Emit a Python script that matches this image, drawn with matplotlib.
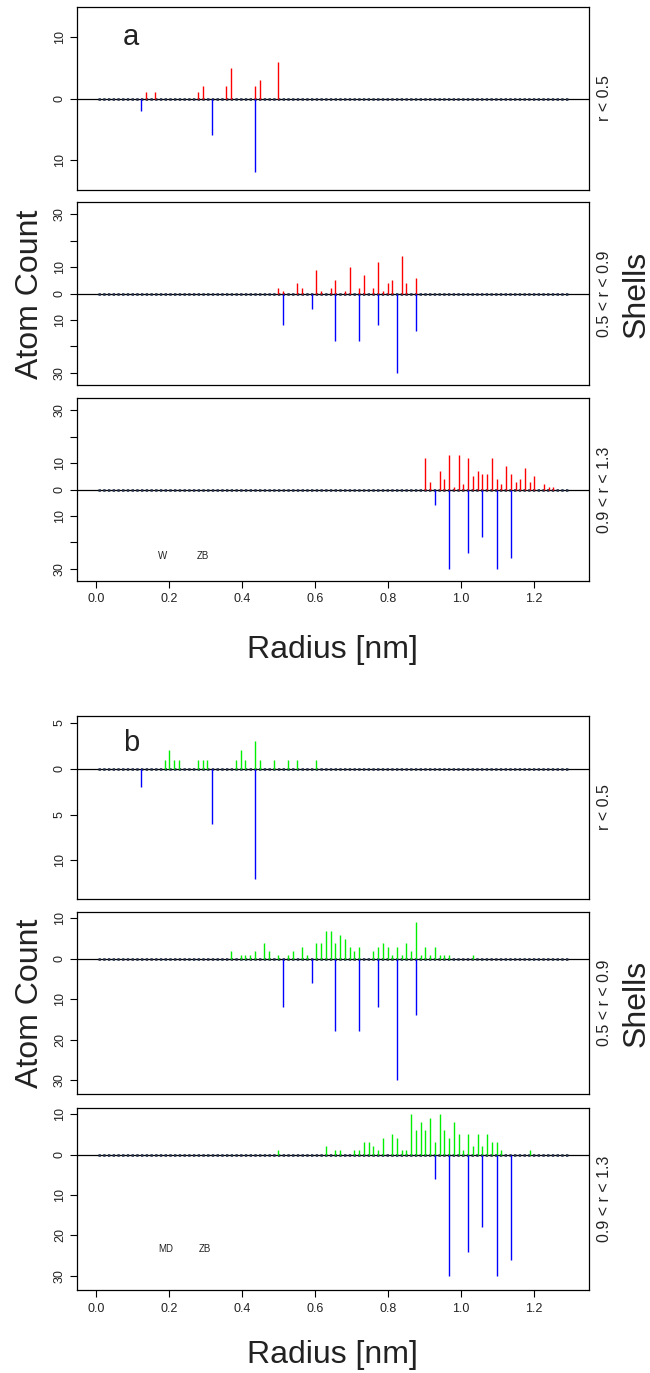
import numpy as np
import matplotlib
matplotlib.use("Agg")
import matplotlib.pyplot as plt

plt.rcParams['font.family'] = ['Liberation Sans', 'DejaVu Sans']
plt.rcParams['lines.scale_dashes'] = False

# histogram bins: 100 bins of 0.013 nm from 0 to 1.3 nm
bin_width = 0.013
n_bins = 100

# ZB reference structure (blue, drawn downward) - same in a and b
zb_inner_bins = [9, 24, 33]
zb_inner_counts = [2, 6, 12]
zb_mid_bins = [39, 45, 50, 55, 59, 63, 67]
zb_mid_counts = [12, 6, 18, 18, 12, 30, 14]
zb_outer_bins = [71, 74, 78, 81, 84, 87]
zb_outer_counts = [6, 30, 24, 18, 30, 26]

# W structure (red, panel a)
w_inner_bins = [10, 12, 21, 22, 27, 28, 33, 34, 38]
w_inner_counts = [1, 1, 1, 2, 2, 5, 2, 3, 6]
w_mid_bins = [38, 39, 42, 43, 46, 47, 49, 50, 52, 53, 55, 56, 58, 59, 60, 61, 62, 64, 65, 67]
w_mid_counts = [2, 1, 4, 2, 9, 1, 2, 5, 1, 10, 2, 7, 2, 12, 1, 4, 5, 14, 4, 6]
w_outer_bins = [69, 70, 72, 73, 74, 75, 76, 77, 78, 79, 80, 81, 82, 83, 84, 85, 86,
                87, 88, 89, 90, 91, 92, 94, 95, 96]
w_outer_counts = [12, 3, 7, 4, 13, 1, 13, 2, 12, 5, 7, 6, 6, 12, 4, 2, 9,
                  6, 3, 4, 8, 3, 5, 2, 1, 1]

# MD structure (green, panel b)
md_inner_bins = [14, 15, 16, 17, 21, 22, 23, 29, 30, 31, 33, 34, 37, 40, 42, 46]
md_inner_counts = [1, 2, 1, 1, 1, 1, 1, 1, 2, 1, 3, 1, 1, 1, 1, 1]
md_mid_bins = [28, 30, 31, 32, 33, 35, 36, 38, 40, 41, 43, 44, 46, 47, 48, 49, 50, 51, 52,
               53, 54, 55, 58, 59, 60, 61, 62, 63, 64, 65, 66, 67, 68, 69, 70, 71, 72,
               73, 74, 79]
md_mid_counts = [2, 1, 1, 1, 2, 4, 2, 1, 1, 2, 3, 1, 4, 4, 7, 7, 4, 6, 5,
                 3, 2, 3, 2, 3, 4, 3, 1, 3, 1, 4, 2, 9, 1, 3, 1, 3, 1,
                 1, 1, 1]
md_outer_bins = [38, 48, 50, 51, 54, 55, 56, 57, 58, 59, 60, 62, 63, 64, 65, 66, 67, 68,
                 69, 70, 71, 72, 73, 74, 75, 76, 77, 78, 79, 80, 81, 82, 83, 84, 85, 91]
md_outer_counts = [1, 2, 1, 1, 1, 1, 3, 3, 2, 1, 4, 5, 4, 1, 1, 10, 6, 8,
                   6, 9, 3, 10, 6, 4, 8, 5, 1, 5, 2, 5, 2, 5, 3, 3, 1, 1]

shell_labels = ["r < 0.5", "0.5 < r < 0.9", "0.9 < r < 1.3"]
x_ticks = [0.0, 0.2, 0.4, 0.6, 0.8, 1.0, 1.2]


def radius(bins):
    return (np.array(bins) + 0.5) * bin_width


W, H = 650, 1373
fig = plt.figure(figsize=(W / 100, H / 100), dpi=100)


def make_ax(top, bottom):
    return fig.add_axes([77 / W, 1 - bottom / H, 512 / W, (bottom - top) / H])


panels = [
    # top, bottom, ylim, yticks, ylabels, up bins, up counts, up color, down bins, down counts
    (7, 190, (-14.9, 14.9), [-10, 0, 10], ["10", "0", "10"],
     w_inner_bins, w_inner_counts, "red", zb_inner_bins, zb_inner_counts),
    (202, 385, (-34.6, 34.6), [-30, -20, -10, 0, 10, 20, 30], ["30", "", "10", "0", "10", "", "30"],
     w_mid_bins, w_mid_counts, "red", zb_mid_bins, zb_mid_counts),
    (398, 581, (-34.6, 34.6), [-30, -20, -10, 0, 10, 20, 30], ["30", "", "10", "0", "10", "", "30"],
     w_outer_bins, w_outer_counts, "red", zb_outer_bins, zb_outer_counts),
    (716, 899, (-14.2, 5.75), [-10, -5, 0, 5], ["10", "5", "0", "5"],
     md_inner_bins, md_inner_counts, "#00ee00", zb_inner_bins, zb_inner_counts),
    (912, 1094, (-33.5, 11.6), [-30, -20, -10, 0, 10], ["30", "20", "10", "0", "10"],
     md_mid_bins, md_mid_counts, "#00ee00", zb_mid_bins, zb_mid_counts),
    (1108, 1290, (-33.5, 11.5), [-30, -20, -10, 0, 10], ["30", "20", "10", "0", "10"],
     md_outer_bins, md_outer_counts, "#00ee00", zb_outer_bins, zb_outer_counts),
]

all_r = radius(range(n_bins))
axes = []
for i, (top, bot, ylim, yt, yl, ub, uc, ucol, db, dc) in enumerate(panels):
    ax = make_ax(top, bot)
    axes.append(ax)
    ax.set_xlim(-0.052, 1.352)
    ax.set_ylim(*ylim)
    ax.axhline(0, color="black", lw=0.9, zorder=1)
    ax.plot([all_r[0], all_r[-1]], [0, 0], color="#26314a", lw=1.9,
            dashes=(1.7, 1.7), zorder=2)
    ax.vlines(radius(ub), 0, np.array(uc), color=ucol, lw=1.0, zorder=3)
    ax.vlines(radius(db), 0, -np.array(dc), color="blue", lw=1.0, zorder=3)
    ax.set_yticks(yt)
    ax.set_yticklabels(yl, rotation=90, va="center", fontsize=9, color="#222222")
    ax.tick_params(axis="y", length=5, width=0.8, pad=3)
    for s in ax.spines.values():
        s.set_linewidth(0.9)
    ax.text(1.031, 0.5, shell_labels[i % 3], transform=ax.transAxes, rotation=90,
            ha="center", va="center", fontsize=11.5, color="#222222")
    if i % 3 == 2:
        ax.set_xticks(x_ticks)
        ax.set_xticklabels(["%.1f" % t for t in x_ticks], fontsize=9, color="#222222")
        ax.tick_params(axis="x", length=5, width=0.8, pad=4)
    else:
        ax.set_xticks([])

axes[0].text(0.105, 0.836, "a", transform=axes[0].transAxes, fontsize=21,
             ha="center", va="center", color="#222222")
axes[3].text(0.105, 0.852, "b", transform=axes[3].transAxes, fontsize=21,
             ha="center", va="center", color="#222222")

axes[2].text(0.183, -25.3, "W", fontsize=7, ha="center", va="center", color="#222222")
axes[2].text(0.294, -25.3, "ZB", fontsize=7, ha="center", va="center", color="#222222")
axes[5].text(0.19, -23.3, "MD", fontsize=7, ha="center", va="center", color="#222222")
axes[5].text(0.30, -23.3, "ZB", fontsize=7, ha="center", va="center", color="#222222")

for yc, yr in [(294, 650), (1003, 1355)]:
    fig.text(30 / W, 1 - yc / H, "Atom Count", rotation=90, fontsize=23,
             ha="center", va="center", color="#222222")
    fig.text(637 / W, 1 - yc / H, "Shells", rotation=90, fontsize=23,
             ha="center", va="center", color="#222222")
    fig.text(332 / W, 1 - yr / H, "Radius [nm]", fontsize=23,
             ha="center", va="center", color="#222222")

fig.savefig("out.png", dpi=100)
